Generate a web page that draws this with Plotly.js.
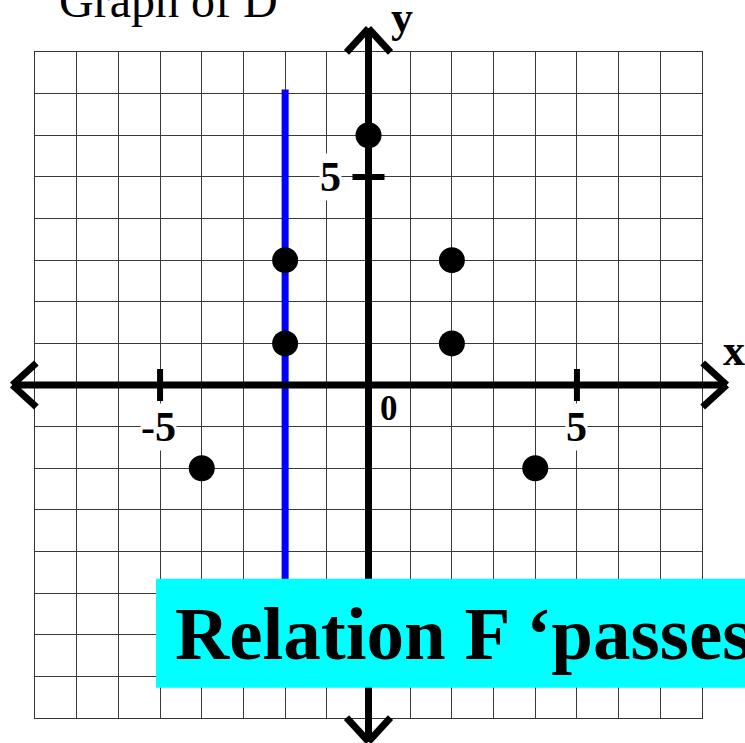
<!DOCTYPE html>
<html>
<head>
<meta charset="utf-8">
<script src="https://cdn.plot.ly/plotly-3.0.1.min.js"></script>
<style>html,body{margin:0;padding:0;background:#fff;overflow:hidden}#chart{width:745px;height:743px}</style>
</head>
<body>
<div id="chart"></div>
<script>
// ---- data ----
const pointsX = [0, -2, -2, 2, 2, -4, 4];
const pointsY = [6, 3, 1, 3, 1, -2, -2];
const verticalLineX = [-2, -2];
const verticalLineY = [7.1, -5];
const xTickVals = [-5, 5];
const xTickText = ['-5', '5'];
const yTickVals = [5, -5];
const yTickText = ['5', ''];
const gridRange = [-8, 8];
const titleText = 'Graph of D';
const bannerText = 'Relation F \u2018passes';

// ---- geometry helpers ----
const W = 745, H = 743;
const M = {l: 35, r: 43.33, t: 51.67, b: 24.67};
const PW = W - M.l - M.r, PH = H - M.t - M.b;
const span = gridRange[1] - gridRange[0];
const dx = v => (v - gridRange[0]) / span;        // data -> paper x
const dy = v => (v - gridRange[0]) / span;        // data -> paper y
const ux = p => p / PW;                            // pixels -> paper x length
const uy = p => p / PH;                            // pixels -> paper y length
const pxX = p => (p - M.l) / PW;                   // absolute pixel -> paper x
const pxY = p => (H - M.b - p) / PH;               // absolute pixel -> paper y

const AX = 'black', AW = 7;
const line = (x0, y0, x1, y1, color, width) => ({
  type: 'line', xref: 'paper', yref: 'paper', x0, y0, x1, y1,
  line: {color, width}, layer: 'above'
});

const shapes = [];
// x axis with arrowheads
const xL = dx(0) - ux(356), xR = dx(0) + ux(358);
const yA = dy(0);
shapes.push(line(xL, yA, xR, yA, AX, AW));
shapes.push(line(xR, yA, xR - ux(24), yA + uy(22), AX, AW));
shapes.push(line(xR, yA, xR - ux(24), yA - uy(22), AX, AW));
shapes.push(line(xL, yA, xL + ux(24), yA + uy(22), AX, AW));
shapes.push(line(xL, yA, xL + ux(24), yA - uy(22), AX, AW));
// y axis with arrowheads
const xA = dx(0);
const yT = dy(0) + uy(357), yB = dy(0) - uy(357);
shapes.push(line(xA, yB, xA, yT, AX, AW));
shapes.push(line(xA, yT, xA - ux(22), yT - uy(24), AX, AW));
shapes.push(line(xA, yT, xA + ux(22), yT - uy(24), AX, AW));
shapes.push(line(xA, yB, xA - ux(22), yB + uy(24), AX, AW));
shapes.push(line(xA, yB, xA + ux(22), yB + uy(24), AX, AW));
// tick marks
xTickVals.forEach(v => shapes.push(line(dx(v), yA - uy(16), dx(v), yA + uy(16), AX, AW - 1)));
yTickVals.forEach(v => shapes.push(line(xA - ux(16), dy(v), xA + ux(16), dy(v), AX, AW - 1)));
// cyan banner
shapes.push({type: 'rect', xref: 'paper', yref: 'paper',
  x0: pxX(156), x1: pxX(760), y0: pxY(688), y1: pxY(579),
  fillcolor: '#00FFFF', line: {width: 0}, layer: 'above'});

const serif = 'Liberation Serif, Times New Roman, serif';
const annotations = [];
xTickVals.forEach((v, i) => annotations.push({
  x: v, y: 0, xref: 'x', yref: 'y', text: '<b>' + xTickText[i] + '</b>',
  showarrow: false, xanchor: 'center', yanchor: 'middle', yshift: -42,
  xshift: v < 0 ? -2 : 0, bgcolor: 'white', borderpad: 0,
  font: {family: serif, size: 42, color: 'black'}
}));
yTickVals.forEach((v, i) => { if (yTickText[i]) annotations.push({
  x: 0, y: v, xref: 'x', yref: 'y', text: '<b>' + yTickText[i] + '</b>',
  showarrow: false, xanchor: 'center', yanchor: 'middle', xshift: -38, yshift: 0,
  bgcolor: 'white', borderpad: 0,
  font: {family: serif, size: 42, color: 'black'}
});});
annotations.push({x: 0, y: 0, xref: 'x', yref: 'y', text: '<b>0</b>', showarrow: false,
  xanchor: 'center', yanchor: 'middle', xshift: 20, yshift: -23,
  font: {family: serif, size: 35, color: 'black'}});
annotations.push({x: pxX(402), y: pxY(-9), xref: 'paper', yref: 'paper', text: '<b>y</b>',
  xanchor: 'center', yanchor: 'top',
  showarrow: false, font: {family: serif, size: 44, color: 'black'}});
annotations.push({x: pxX(734), y: pxY(350), xref: 'paper', yref: 'paper', text: '<b>x</b>',
  xanchor: 'center', yanchor: 'middle',
  showarrow: false, font: {family: serif, size: 44, color: 'black'}});
annotations.push({x: pxX(57), y: pxY(0), xref: 'paper', yref: 'paper', text: titleText,
  xanchor: 'left', yanchor: 'middle', showarrow: false,
  font: {family: serif, size: 48, color: 'black'}});
annotations.push({x: pxX(173), y: pxY(634), xref: 'paper', yref: 'paper', text: '<b>' + bannerText + '</b>',
  xanchor: 'left', yanchor: 'middle', showarrow: false,
  font: {family: serif, size: 75, color: 'black'}});

const traces = [
  {x: verticalLineX, y: verticalLineY, mode: 'lines', line: {color: '#0000FF', width: 7},
   hoverinfo: 'skip', showlegend: false},
  {x: pointsX, y: pointsY, mode: 'markers', marker: {color: 'black', size: 26},
   hoverinfo: 'skip', showlegend: false}
];

const axisCommon = {
  range: gridRange, dtick: 1, tick0: 0, showgrid: true, gridcolor: '#3a3a3a', gridwidth: 1,
  zeroline: false, showticklabels: false, ticks: '', showline: true, mirror: true,
  linecolor: '#333', linewidth: 1, fixedrange: true
};

Plotly.newPlot('chart', traces, {
  width: W, height: H, margin: M, showlegend: false,
  paper_bgcolor: 'white', plot_bgcolor: 'white',
  xaxis: Object.assign({}, axisCommon),
  yaxis: Object.assign({}, axisCommon),
  shapes, annotations
}, {staticPlot: true});
</script>
</body>
</html>
